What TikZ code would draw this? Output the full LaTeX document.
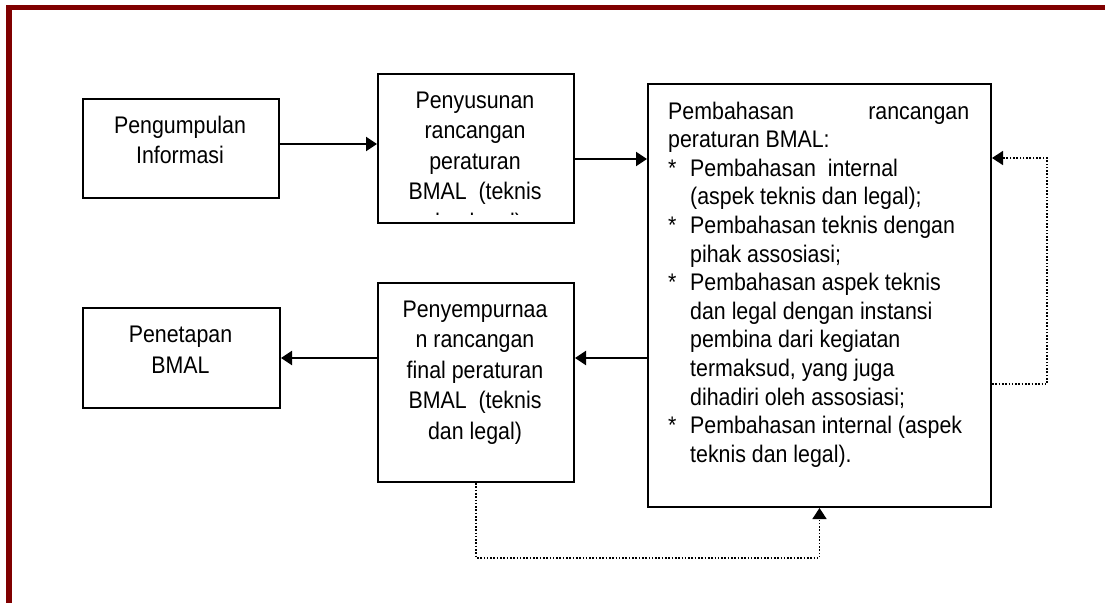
\documentclass[tikz,border=0pt]{standalone}
\usepackage{fontspec}
\setmainfont[FakeStretch=0.89]{Liberation Sans}
\usetikzlibrary{arrows.meta}
\definecolor{framered}{HTML}{800000}
\begin{document}
\begin{tikzpicture}[x=1pt,y=-1pt,
  box/.style={draw, line width=2pt, inner sep=0pt, anchor=north west},
  lbl/.style={inner sep=0pt, anchor=base, font=\fontsize{24}{29}\selectfont},
  lbll/.style={lbl, anchor=base west},
  arr/.style={line width=2.2pt, -{Triangle[length=11pt,width=14pt]}},
  dotarr/.style={line width=1.6pt, dash pattern=on 1.6pt off 1.7pt,
                 -{Triangle[length=11pt,width=14pt]}},
]
\useasboundingbox (0,0) rectangle (1105,603);

% frame rules along the top and the left side
\fill[framered] (6,5) rectangle (1105,10);
\fill[framered] (6,5) rectangle (12,603);

% boxes
\node[box, minimum width=196pt, minimum height=99pt]  (b1) at (82,98)  {};
\node[box, minimum width=196pt, minimum height=149pt] (b2) at (377,73) {};
\node[box, minimum width=343pt, minimum height=423pt] (b3) at (647,83) {};
\node[box, minimum width=196pt, minimum height=199pt] (b4) at (377,282) {};
\node[box, minimum width=197pt, minimum height=100pt] (b5) at (82,307) {};

% Pengumpulan Informasi
\node[lbl] (t1a) at (180,133) {Pengumpulan};
\node[lbl] (t1b) at (180,163) {Informasi};

% Penyusunan rancangan (last line cut off by the box)
\node[lbl] (t2a) at (475,108) {Penyusunan};
\node[lbl] (t2b) at (475,138.5) {rancangan};
\node[lbl] (t2c) at (475,169) {peraturan};
\node[lbl] (t2d) at (475,199.5) {BMAL\ \ (teknis};
\begin{scope}
  \clip (377,73) rectangle (573,214);
  \node[lbl] (t2e) at (475,230) {dan legal)};
\end{scope}

% Pembahasan rancangan peraturan
\node[lbll] (t3a) at (668,119) {\hbox to 301pt{Pembahasan\hfill rancangan}};
\node[lbll] (t3b) at (668,147.6) {peraturan BMAL:};
\node[lbll] (t3c) at (668,176.2) {\makebox[22pt][l]{*}Pembahasan\ \ internal};
\node[lbll] (t3d) at (690,204.8) {(aspek teknis dan legal);};
\node[lbll] (t3e) at (668,233.4) {\makebox[22pt][l]{*}Pembahasan teknis dengan};
\node[lbll] (t3f) at (690,262) {pihak assosiasi;};
\node[lbll] (t3g) at (668,290.6) {\makebox[22pt][l]{*}Pembahasan aspek teknis};
\node[lbll] (t3h) at (690,319.2) {dan legal dengan instansi};
\node[lbll] (t3i) at (690,347.8) {pembina dari kegiatan};
\node[lbll] (t3j) at (690,376.4) {termaksud, yang juga};
\node[lbll] (t3k) at (690,405) {dihadiri oleh assosiasi;};
\node[lbll] (t3l) at (668,433.6) {\makebox[22pt][l]{*}Pembahasan internal (aspek};
\node[lbll] (t3m) at (690,462.2) {teknis dan legal).};

% Penyempurnaan rancangan final
\node[lbl] (t4a) at (475,317) {Penyempurnaa};
\node[lbl] (t4b) at (475,347.5) {n rancangan};
\node[lbl] (t4c) at (475,378) {final peraturan};
\node[lbl] (t4d) at (475,408.5) {BMAL\ \ (teknis};
\node[lbl] (t4e) at (475,439) {dan legal)};

% Penetapan BMAL
\node[lbl] (t5a) at (180.5,342) {Penetapan};
\node[lbl] (t5b) at (180.5,373) {BMAL};

% solid connectors
\coordinate (a1) at ([yshift=4.5pt]b1.east);
\draw[arr] (a1) -- (a1 -| b2.west);
\coordinate (a2) at ([yshift=-10.5pt]b2.east);
\draw[arr] (a2) -- (a2 -| b3.west);
\coordinate (a3) at ([yshift=-62.5pt]b3.west);
\draw[arr] (a3) -- (a3 -| b4.east);
\draw[arr] (b5.east -| b4.west) -- (b5.east);

% dotted feedback loops
\coordinate (r1) at ([yshift=-88.5pt]b3.east);
\coordinate (r2) at ([yshift=137.5pt]b3.east);
\draw[dotarr] (r1) -- ++(55,0) |- (r2);
\draw[dotarr] (b4.south) -- ++(0,75) -| (b3.south);
\end{tikzpicture}
\end{document}
